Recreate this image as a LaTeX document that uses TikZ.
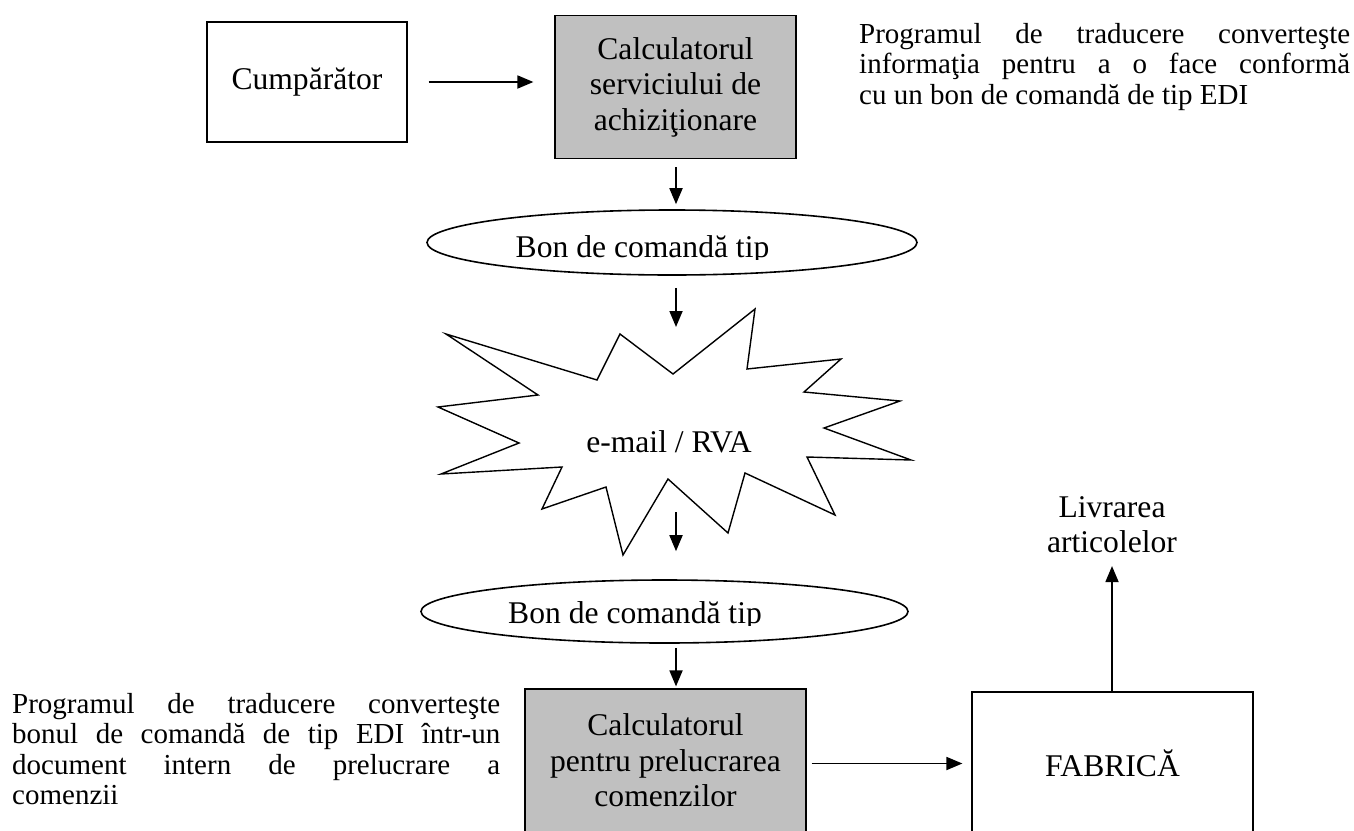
\documentclass[tikz,border=0pt]{standalone}
\usepackage{fontspec}
\setmainfont{Liberation Serif}
\usetikzlibrary{arrows.meta,shapes.geometric,calc}
\definecolor{boxgray}{RGB}{192,192,192}
\newcommand{\bigtext}{\fontsize{31.6bp}{35.5bp}\selectfont}
\newcommand{\notetext}{\fontsize{29bp}{30.5bp}\selectfont}

\begin{document}
\begin{tikzpicture}[x=1bp,y=-1bp,
  box/.style={draw, line width=1.2bp, inner sep=0pt, align=center, font=\bigtext},
  graybox/.style={box, fill=boxgray},
  oval/.style={draw, ellipse, line width=1.6bp, inner sep=0pt},
  arr/.style={line width=1.8bp, -{Triangle[length=16bp,width=13bp]}},
  note/.style={inner sep=0pt, anchor=north west, align=left, font=\notetext},
  caption/.style={inner sep=0pt, font=\bigtext},
]
\clip (0,0) rectangle (1354,830);
\fill[white] (0,0) rectangle (1354,830);

% boxes
\node[box, minimum width=200bp, minimum height=120bp] (cump) at (307,82) {Cumpărător};
\node[graybox, minimum width=241bp, minimum height=143bp] (calc1) at (675.5,87)
  {Calculatorul\\serviciului de\\achiziţionare};
\node[graybox, minimum width=281bp, minimum height=143bp] (calc2) at (665.5,760.5)
  {Calculatorul\\pentru prelucrarea\\comenzilor};
\node[box, minimum width=281bp, minimum height=143bp] (fab) at (1112.5,763.5) {FABRICĂ};

% order form ovals, their text box cut at the bottom
\node[oval, minimum width=490bp, minimum height=65bp] (ell1) at (672,242.5) {};
\node[oval, minimum width=487bp, minimum height=63bp] (ell2) at (664.5,611.5) {};
\begin{scope}
  \clip (430,215) rectangle (915,259);
  \node[caption, anchor=base] (bon1) at (642.5,257) {Bon de comandă tip};
\end{scope}
\begin{scope}
  \clip (425,585) rectangle (905,625);
  \node[caption, anchor=base] (bon2) at (635,623) {Bon de comandă tip};
\end{scope}

% transmission burst
\draw[line width=1.4bp, line join=miter]
  (446,334) -- (597,380) -- (620,334) -- (673,374) -- (755,309) -- (747,369)
  -- (841,359) -- (804,392) -- (900,401) -- (824,428) -- (911,460) -- (807,457)
  -- (835,515) -- (745,473) -- (728,533) -- (668,479) -- (623,555) -- (606,487)
  -- (542,509) -- (562,467) -- (441,474) -- (519,443) -- (438,407) -- (538,395)
  -- cycle;
\node[caption, anchor=base] (mail) at (669,452) {e-mail / RVA};

% delivery label
\node[caption, align=center] (livr) at (1112,524.5) {Livrarea\\articolelor};

% side notes
\node[note] (note1) at (859,23)
  {\makebox[491bp][s]{Programul de traducere converteşte}\\
   \makebox[491bp][s]{informaţia pentru a o face conformă}\\
   cu un bon de comandă de tip EDI};
\node[note] (note2) at (12,693)
  {\makebox[488bp][s]{Programul de traducere converteşte}\\
   \makebox[488bp][s]{bonul de comandă de tip EDI într-un}\\
   \makebox[488bp][s]{document intern de prelucrare a}\\
   comenzii};

% connectors
\coordinate (col) at (676,0);
\coordinate (burstTop) at (676,327);
\draw[arr] ([xshift=21bp]cump.east) -- ([xshift=-21bp]cump.east -| calc1.west);
\draw[arr, shorten <=8bp, shorten >=5bp] (calc1.south -| col) -- (ell1.north -| col);
\draw[arr, shorten <=12bp] (ell1.south -| col) -- (burstTop);
\draw[arr, shorten <=60bp, shorten >=28bp] (mail.base -| col) -- (ell2.north -| col);
\draw[arr, shorten <=4bp, shorten >=2bp] (ell2.south -| col) -- (calc2.north -| col);
\draw[arr, shorten <=5bp, shorten >=9bp] (calc2.east |- fab.center) -- (fab.west);
\draw[arr, shorten >=13bp] (fab.north -| livr) -- (livr.south);
\end{tikzpicture}
\end{document}
